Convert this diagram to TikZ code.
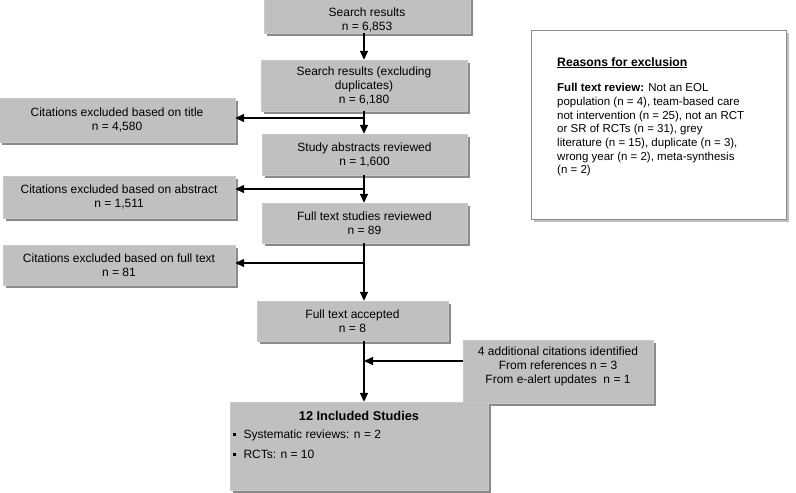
\documentclass[tikz,border=0pt]{standalone}
\usepackage{fontspec}
\setmainfont{Liberation Sans}
\usetikzlibrary{arrows.meta,shadows}
\definecolor{boxgray}{RGB}{192,192,192}
\definecolor{shadowgray}{RGB}{138,138,138}
\begin{document}
\begin{tikzpicture}[x=1pt,y=-1pt,
        flowbox/.style={rectangle,fill=boxgray,draw=boxgray!85!white,thin,align=center,inner sep=2pt,
            drop shadow={shadow xshift=3pt,shadow yshift=-3pt,fill=shadowgray,opacity=1}},
        notebox/.style={rectangle,fill=white,draw=black!45,line width=1pt,
            drop shadow={shadow xshift=3pt,shadow yshift=-3pt,fill=black,opacity=0.25}},
        flowtext/.style={align=center},
        flowline/.style={line width=1.4pt,-{Triangle[width=8pt,length=9pt]}},
        font=\fontsize{12}{14}\selectfont]
    \useasboundingbox (0,0) rectangle (796,493);
    \begin{scope}[every node/.style={flowbox}]
        \node[minimum width=206pt,minimum height=40pt] (search) at (367,13) {};
        \node[minimum width=206pt,minimum height=51pt] (dedup) at (364,85.5) {Search results (excluding\\duplicates)\\n = 6,180};
        \node[minimum width=205pt,minimum height=41pt] (abstr) at (364.5,154.5) {Study abstracts reviewed\\n = 1,600};
        \node[minimum width=205pt,minimum height=40pt] (full) at (364.5,223) {Full text studies reviewed\\n = 89};
        \node[minimum width=191pt,minimum height=40pt] (accepted) at (352.5,321) {Full text accepted\\n = 8};
        \node[minimum width=190pt,minimum height=63pt] (extra) at (558,371.5) {};
        \node[minimum width=258pt,minimum height=88pt] (incl) at (359,446) {};
        \node[minimum width=236pt,minimum height=44pt] (titleout) at (117,120) {Citations excluded based on title\\n = 4,580};
        \node[minimum width=232pt,minimum height=42pt] (abstrout) at (119,197) {Citations excluded based on abstract\\n = 1,511};
        \node[minimum width=232pt,minimum height=40pt] (fullout) at (119,265) {Citations excluded based on full text\\n = 81};
    \end{scope}
    \node[notebox,minimum width=255pt,minimum height=189pt] (reasons) at (658.5,124.5) {};
    \node[flowtext] (searchtxt) at (367,20) {Search results\\n = 6,853};
    \node[flowtext] (extratxt) at (558,366) {4 additional citations identified\\From references n = 3\\From e-alert updates~~n = 1};
    \node[font=\fontsize{12.8}{15}\selectfont\bfseries] (incltitle) at (359,416) {12 Included Studies};
    \node[anchor=west] (sysrev) at (229,435) {\raisebox{2.5pt}{\rule{3pt}{3pt}}\hspace{8pt}Systematic reviews: n = 2};
    \node[anchor=west] (rcts) at (229,454) {\raisebox{2.5pt}{\rule{3pt}{3pt}}\hspace{8pt}RCTs: n = 10};
    \node[anchor=north west,align=left,inner sep=0pt,font=\fontsize{11.5}{13.7}\selectfont] (reasonstxt) at (557,57)
        {{\fontsize{12.2}{13.7}\selectfont\underline{\textbf{Reasons for exclusion}}}\\[12pt]
         \textbf{Full text review:} Not an EOL\\
         population (n = 4), team-based care\\
         not intervention (n = 25), not an RCT\\
         or SR of RCTs (n = 31), grey\\
         literature (n = 15), duplicate (n = 3),\\
         wrong year (n = 2), meta-synthesis\\
         (n = 2)};
    \begin{scope}[every path/.style={flowline}]
        \path (dedup.north |- search.south) edge (dedup.north);
        \path (dedup.south) edge (dedup.south |- abstr.north);
        \path (dedup.south |- abstr.south) edge (dedup.south |- full.north);
        \path (dedup.south |- full.south) edge (dedup.south |- accepted.north);
        \path (dedup.south |- accepted.south) edge (dedup.south |- incl.north);
        \path (dedup.south |- 0,118) edge (titleout.east |- 0,118);
        \path (dedup.south |- 0,189) edge (abstrout.east |- 0,189);
        \path (dedup.south |- 0,263) edge (fullout.east |- 0,263);
        \path (extra.west |- 0,361) edge (dedup.south |- 0,361);
    \end{scope}
\end{tikzpicture}
\end{document}
